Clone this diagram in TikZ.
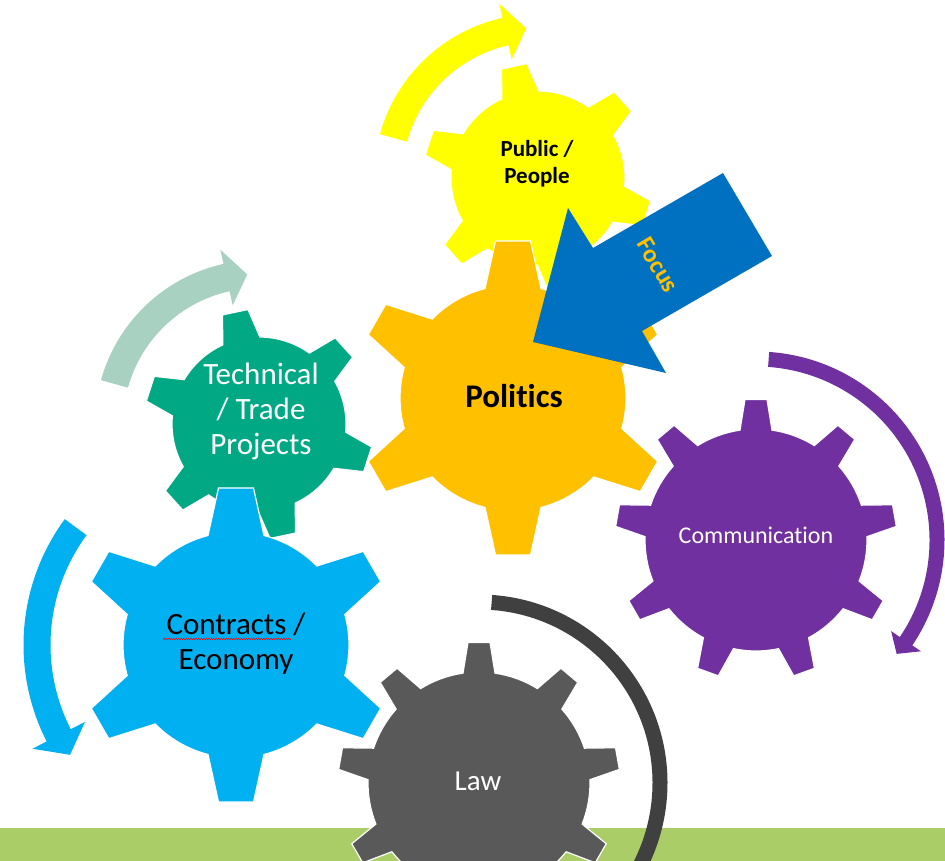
\documentclass[tikz,border=0pt]{standalone}
\usepackage{fontspec}
\setmainfont{Carlito}[Ligatures=NoCommon]
\usetikzlibrary{decorations.pathmorphing}

\definecolor{gyellow}{HTML}{FFFF00}
\definecolor{gorange}{HTML}{FFC000}
\definecolor{ggreen}{HTML}{00A884}
\definecolor{gpale}{HTML}{A9D1C2}
\definecolor{gblue}{HTML}{00B0F0}
\definecolor{gfocus}{HTML}{0070C0}
\definecolor{gpurple}{HTML}{7030A0}
\definecolor{ggrey}{HTML}{595959}
\definecolor{garc}{HTML}{404040}
\definecolor{gband}{HTML}{ABCD68}

\tikzset{
  cog/.style={fill=#1, draw=white, line width=1.2pt},
  lbl/.style={align=center, inner sep=0pt}
}

% centre, teeth, turn, body r, tip r, base half width, tip half width, colour
\newcommand\drawcog[8]{%
  \pgfmathsetmacro\cb{asin(#6/#4)}%
  \pgfmathsetmacro\ct{asin(#7/#5)}%
  \pgfmathsetmacro\cs{360/#2}%
  \filldraw[cog=#8, shift={(#1)}] ({#3-\cs+\cb}:#4)
    \foreach \k in {1,...,#2}{
      arc[start angle={#3+(\k-2)*\cs+\cb}, end angle={#3+(\k-1)*\cs-\cb}, radius=#4]
      -- ({#3+(\k-1)*\cs-\ct}:#5) -- ({#3+(\k-1)*\cs+\ct}:#5)
      -- ({#3+(\k-1)*\cs+\cb}:#4)} -- cycle;
}

% centre, r, half width, start, head base, head half width, tip, colour
\newcommand\arcarrow[8]{%
  \fill[#8, shift={(#1)}] ({#4}:{#2+#3}) arc[start angle=#4, end angle=#5, radius=#2+#3]
    -- ({#5}:{#2+#6}) -- ({#7}:{#2}) -- ({#5}:{#2-#6})
    -- ({#5}:{#2-#3}) arc[start angle=#5, end angle=#4, radius=#2-#3] -- cycle;
}

\begin{document}
\begin{tikzpicture}[x=1pt,y=1pt]
\useasboundingbox (0,0) rectangle (945,861);
\clip (0,0) rectangle (945,861);

\coordinate (c-pub) at (538,683);
\coordinate (c-tech) at (259,437);
\coordinate (c-pol) at (513,463);
\coordinate (c-econ) at (236,216);
\coordinate (c-comm) at (756,321);
\coordinate (c-law) at (479,78);

\fill[gband] (0,0) rectangle (945,33);

\arcarrow{c-pub}{150}{14}{164.5}{102.5}{28.5}{94.5}{gyellow}
\arcarrow{c-tech}{150}{14}{164.5}{102.5}{28.5}{94.5}{gpale}
\arcarrow{c-econ}{199}{13.5}{143.7}{207}{29.5}{213.5}{gblue}
\arcarrow{c-comm}{181}{7.5}{86}{-34}{18}{-39}{gpurple}
\draw[garc, line width=15pt] ([shift={(c-law)}]86:181) arc[start angle=86, end angle=-32, radius=181];

\drawcog{c-pub}{6}{102}{87}{115}{19}{13}{gyellow}
\drawcog{c-tech}{6}{102}{87}{115}{19}{13}{ggreen}
\drawcog{c-comm}{9}{90}{111}{141}{16}{11}{gpurple}
\drawcog{c-law}{9}{90}{111}{141}{16}{11}{ggrey}
\drawcog{c-econ}{6}{90}{113}{158}{28}{17.5}{gblue}
\drawcog{c-pol}{6}{90}{113}{158}{28}{17.5}{gorange}

\fill[gfocus] (723,688) -- (772,605) -- (642,530) -- (666,488) -- (533,519) -- (568,653) -- (593,613) -- cycle;

\node[lbl, font=\bfseries\fontsize{23}{27}\selectfont] (pub) at (537,697) {Public /\\People};
\node[lbl, font=\bfseries\fontsize{33}{40}\selectfont] (pol) at (514,465) {Politics};
\node[lbl, white, font=\fontsize{31}{35}\selectfont] (tech) at (261,450) {Technical\\/ Trade\\Projects};
\node[lbl, font=\fontsize{31}{35}\selectfont] (econ) at (236,217) {Contracts /\\Economy};
\node[lbl, white, font=\fontsize{24}{28}\selectfont] (comm) at (756,326) {Communication};
\node[lbl, white, font=\fontsize{29}{34}\selectfont] (law) at (478,80) {Law};
\node[lbl, gorange, rotate=-59.4, font=\bfseries\fontsize{25}{30}\selectfont] (focus) at (658,596) {Focus};

\draw[red, line width=0.5pt, decorate, decoration={snake, amplitude=0.8pt, segment length=2.5pt}] (163,222) -- (291,222);
\end{tikzpicture}
\end{document}
